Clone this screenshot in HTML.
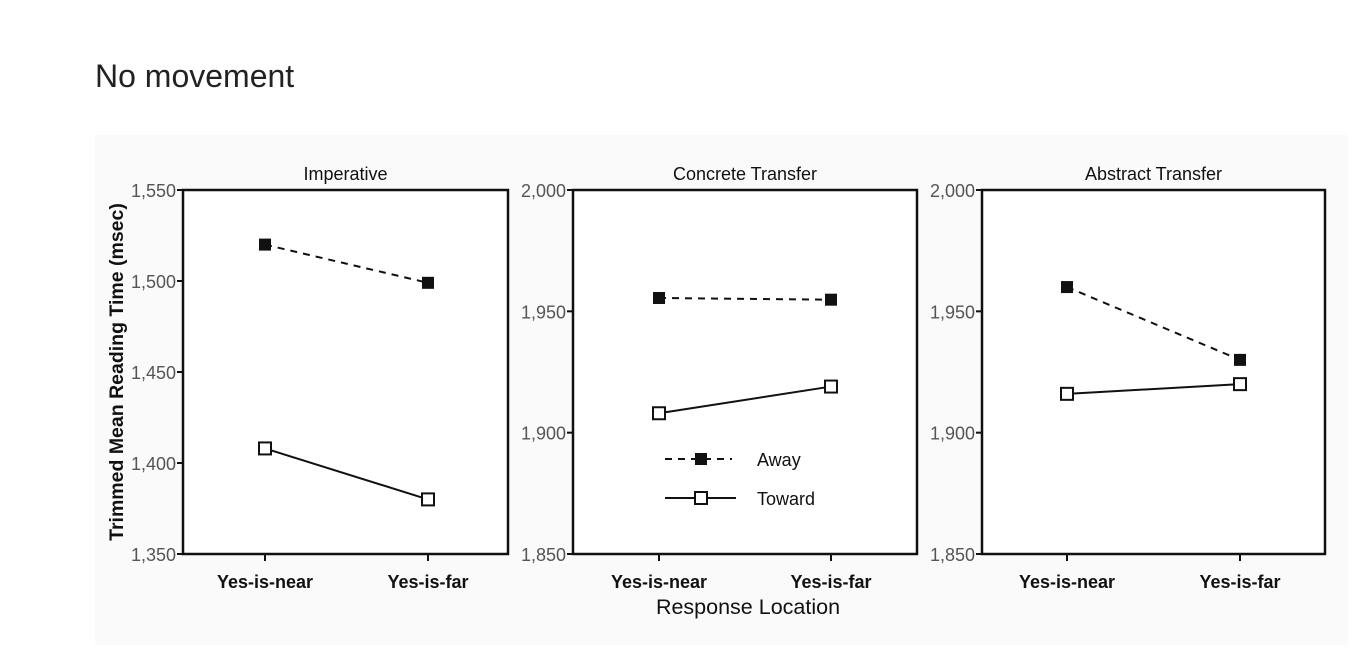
<!DOCTYPE html>
<html><head><meta charset="utf-8">
<style>
body{margin:0;background:#fff;width:1352px;height:664px;overflow:hidden;font-family:"Liberation Sans",Arial,sans-serif;}
#title{position:absolute;left:95px;top:58px;font-size:32px;color:#222;}
#fig{position:absolute;left:95px;top:135px;width:1253px;height:510px;background:#fafafa;}
svg{position:absolute;left:0;top:0;}
</style></head>
<body>
<div id="title">No movement</div>
<div id="fig"></div>
<svg width="1352" height="664" id="chart"></svg>
<script>
const categories = ["Yes-is-near", "Yes-is-far"];
const panelTitles = ["Imperative", "Concrete Transfer", "Abstract Transfer"];
const yMins = [1350, 1850, 1850];
const yMaxs = [1550, 2000, 2000];
const yTicks1 = [1350, 1400, 1450, 1500, 1550];
const yTicks2 = [1850, 1900, 1950, 2000];
const awayValues = [[1520, 1499], [1955.5, 1954.8], [1960, 1930]];
const towardValues = [[1408, 1380], [1908, 1919], [1916, 1920]];

const NS = "http://www.w3.org/2000/svg";
const svgEl = document.getElementById('chart');
function mk(tag, attrs, parent) {
  const e = document.createElementNS(NS, tag);
  for (const k in attrs) e.setAttribute(k, attrs[k]);
  (parent || svgEl).appendChild(e);
  return e;
}
const panels = [
  {l:183, r:508, cx:[265, 428]},
  {l:573, r:917, cx:[659, 831]},
  {l:982, r:1325, cx:[1067, 1240]}
];
const plotTop = 190, plotBottom = 554;
function fmt(v){return String(v).replace(/(\d)(\d{3})$/, "$1,$2");}

panels.forEach((p, i) => {
  const g = mk('g', {});
  
  
  const y = v => plotBottom - (v - yMins[i]) / (yMaxs[i] - yMins[i]) * (plotBottom - plotTop);
  const x = j => p.cx[j];
  const box = mk('rect', {x:p.l, y:plotTop, width:p.r-p.l, height:plotBottom-plotTop, fill:'#fff', stroke:'#111', 'stroke-width':2.5}, g);
  
  
  const t = mk('text', {x:(p.l+p.r)/2, y:180, 'text-anchor':'middle', 'font-size':18, fill:'#111'}, g);
  t.textContent = panelTitles[i];
  
  
  const ticks = i === 0 ? yTicks1 : yTicks2;
  ticks.forEach(v => {
    mk('line', {x1:p.l-6, x2:p.l, y1:y(v), y2:y(v), stroke:'#111', 'stroke-width':2}, g);
    const tl = mk('text', {x:p.l-7, y:y(v)+7, 'text-anchor':'end', 'font-size':18, fill:'#555'}, g);
    tl.textContent = fmt(v);
    
    
  });
  categories.forEach((c, j) => {
    mk('line', {x1:x(j), x2:x(j), y1:plotBottom, y2:plotBottom+7, stroke:'#111', 'stroke-width':2}, g);
    const cl = mk('text', {x:x(j), y:plotBottom+34, 'text-anchor':'middle', 'font-size':18, 'font-weight':'bold', fill:'#111'}, g);
    cl.textContent = c;
    
    
  });
  const a = awayValues[i], tw = towardValues[i];
  const la = mk('line', {x1:x(0), y1:y(a[0]), x2:x(1), y2:y(a[1]), stroke:'#111', 'stroke-width':2, 'stroke-dasharray':'7,6'}, g);
  
  
  const lt = mk('line', {x1:x(0), y1:y(tw[0]), x2:x(1), y2:y(tw[1]), stroke:'#111', 'stroke-width':2}, g);
  
  
  [0,1].forEach(j => {
    const m = mk('rect', {x:x(j)-6, y:y(a[j])-6, width:12, height:12, fill:'#111'}, g);
    
    
    const n = mk('rect', {x:x(j)-6, y:y(tw[j])-6, width:12, height:12, fill:'#fff', stroke:'#111', 'stroke-width':2}, g);
    
    
  });
});

const yt = mk('text', {x:0, y:0, transform:'translate(123,372) rotate(-90)', 'text-anchor':'middle', 'font-size':19.5, 'font-weight':'bold', fill:'#111'});
yt.textContent = 'Trimmed Mean Reading Time (msec)';


const xt = mk('text', {x:748, y:614, 'text-anchor':'middle', 'font-size':21.5, fill:'#111'});
xt.textContent = 'Response Location';



const lg = mk('g', {});


mk('line', {x1:665, x2:732, y1:459, y2:459, stroke:'#111', 'stroke-width':2, 'stroke-dasharray':'7,6'}, lg);
mk('rect', {x:695, y:453, width:12, height:12, fill:'#111'}, lg);
const l1 = mk('text', {x:757, y:466, 'font-size':18, fill:'#111'}, lg);
l1.textContent = 'Away';


mk('line', {x1:665, x2:736, y1:498, y2:498, stroke:'#111', 'stroke-width':2}, lg);
mk('rect', {x:695, y:492, width:12, height:12, fill:'#fff', stroke:'#111', 'stroke-width':2}, lg);
const l2 = mk('text', {x:757, y:505, 'font-size':18, fill:'#111'}, lg);
l2.textContent = 'Toward';


</script>
</body></html>
